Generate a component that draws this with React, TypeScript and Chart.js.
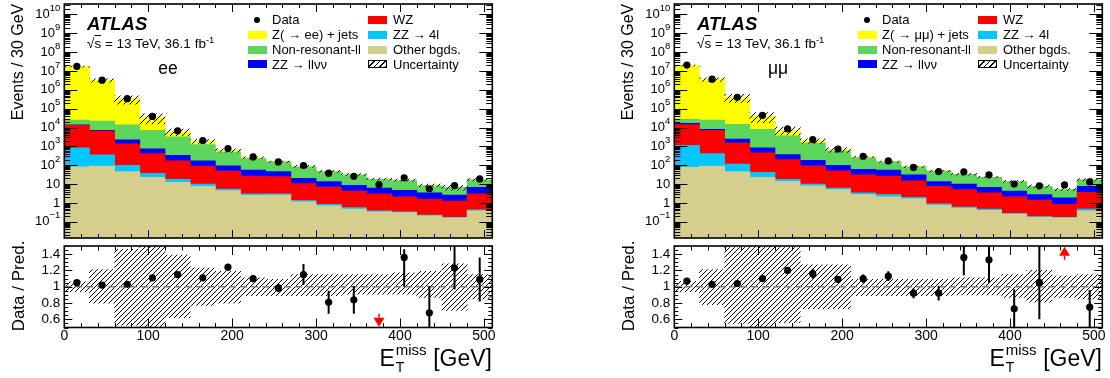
import React, { useEffect, useRef } from 'react';
import { Chart, registerables } from 'chart.js';

Chart.register(...registerables);

const FONT = '"Liberation Sans", Arial, Helvetica, sans-serif';

// ---------------- binning / axes ----------------
const binCenters = [15, 45, 75, 105, 135, 165, 195, 225, 255, 285, 315, 345, 375, 405, 435, 465, 495];
const xAxisMin = 0;
const xAxisMax = 510;
const xTickLabels = [0, 100, 200, 300, 400, 500];
const mainYMin = 0.0138;
const mainYMax = 3.6e10;
const mainDecades = [-1, 0, 1, 2, 3, 4, 5, 6, 7, 8, 9, 10];
const ratioYMin = 0.5;
const ratioYMax = 1.5;
const ratioTickLabels = [0.6, 0.8, 1, 1.2, 1.4];

// ---------------- ee channel ----------------
const eeOther = [83, 90, 46, 23, 12.6, 7.6, 4.5, 2.5, 2.6, 1.15, 0.7, 0.47, 0.34, 0.31, 0.21, 0.16, 0.38];
const eeZZ4l = [750, 270, 54, 14, 5.4, 2.4, 1.0, 0.5, 0.4, 0.2, 0.15, 0.09, 0.04, 0.03, 0.02, 0.01, 0.05];
const eeWZ = [12200, 6100, 1250, 373, 152, 80, 43.5, 24, 22, 9.15, 6.15, 3.64, 2.62, 1.76, 1.32, 1.08, 2.57];
const eeZZllvv = [1000, 700, 850, 330, 170, 80, 44, 29, 21, 9.5, 6.7, 4.3, 3.2, 2.6, 1.85, 1.35, 3.7];
const eeNonRes = [11000, 14800, 11800, 6460, 2860, 1090, 407, 168, 104, 63, 32.3, 22.5, 11.8, 10.8, 4.8, 4.1, 10.3];
const eeZjets = [1.7e7, 3.18e6, 3.16e5, 2.78e4, 2700, 600, 120, 26, 5, 2, 1, 0.5, 0.3, 0.3, 0.1, 0.1, 0.3];
const eeData = [1.75e7, 3.25e6, 3.4e5, 3.9e4, 6.7e3, 2.05e3, 770, 275, 150, 97, 38, 26, 9.3, 21.5, 5.6, 8.3, 18.8];
const eeRatio = [1.05, 1.02, 1.03, 1.11, 1.15, 1.11, 1.24, 1.1, 0.985, 1.15, 0.81, 0.84, null, 1.36, 0.68, 1.23, 1.09];
const eeRatioErrLo = [0.01, 0.01, 0.01, 0.01, 0.015, 0.025, 0.04, 0.045, 0.05, 0.13, 0.14, 0.17, 0, 0.36, 0.35, 0.26, 0.27];
const eeRatioErrHi = [0.01, 0.01, 0.01, 0.01, 0.015, 0.025, 0.04, 0.045, 0.05, 0.13, 0.14, 0.17, 0, 0.1, 0.33, 0.35, 0.27];
const eeUncHi = [1.06, 1.21, 1.46, 1.55, 1.39, 1.23, 1.19, 1.11, 1.09, 1.15, 1.15, 1.15, 1.15, 1.17, 1.19, 1.28, 1.15];
const eeUncLo = [0.94, 0.8, 0.53, 0.45, 0.62, 0.77, 0.8, 0.89, 0.89, 0.89, 0.89, 0.91, 0.91, 0.91, 0.87, 0.71, 0.85];
const eeArrowBins = [12];
const eeArrowTips = [0.51];

// ---------------- mumu channel ----------------
const mmOther = [77, 90, 46, 23, 13.8, 8.2, 5.1, 2.8, 2.1, 1.66, 0.78, 0.53, 0.41, 0.26, 0.17, 0.16, 0.38];
const mmZZ4l = [1040, 320, 69, 19, 4.2, 1.8, 1.1, 0.6, 0.7, 0.34, 0.13, 0.08, 0.06, 0.02, 0.02, 0.01, 0.09];
const mmWZ = [13100, 6790, 1385, 418, 182, 83, 44.8, 27.6, 24.2, 13, 6.7, 4.5, 2.93, 1.82, 1.22, 0.68, 3.23];
const mmZZllvv = [2400, 900, 950, 370, 165, 92, 49, 29, 29, 16, 6.1, 4.9, 3.3, 2.1, 1.39, 1.02, 3.9];
const mmNonRes = [10400, 16900, 12350, 7270, 3235, 1315, 460, 185, 94, 52, 35.3, 23, 16.3, 9.5, 4.8, 3.23, 9.4];
const mmZjets = [1.95e7, 3.58e6, 3.75e5, 3.19e4, 3600, 500, 100, 30, 3, 1, 1, 0.5, 0.3, 0.2, 0.1, 0.1, 0.3];
const mmData = [2.08e7, 3.7e6, 4.05e5, 4.4e4, 8.6e3, 2.3e3, 720, 300, 170, 77, 46, 45, 31, 10, 8.1, 9.0, 13];
const mmRatio = [1.07, 1.03, 1.04, 1.1, 1.2, 1.16, 1.09, 1.1, 1.13, 0.92, 0.92, 1.36, 1.33, 0.73, 1.05, null, 0.75];
const mmRatioErrLo = [0.01, 0.01, 0.01, 0.01, 0.03, 0.06, 0.04, 0.05, 0.06, 0.06, 0.09, 0.22, 0.28, 0.3, 0.45, 0, 0.3];
const mmRatioErrHi = [0.01, 0.01, 0.01, 0.01, 0.03, 0.06, 0.04, 0.05, 0.06, 0.06, 0.09, 0.3, 0.3, 0.24, 0.45, 0, 0.21];
const mmUncHi = [1.065, 1.21, 1.48, 1.55, 1.48, 1.27, 1.27, 1.09, 1.09, 1.09, 1.09, 1.11, 1.11, 1.15, 1.2, 1.13, 1.15];
const mmUncLo = [0.94, 0.78, 0.55, 0.45, 0.56, 0.73, 0.73, 0.89, 0.89, 0.89, 0.89, 0.9, 0.9, 0.87, 0.81, 0.87, 0.85];
const mmArrowBins = [15];
const mmArrowTips = [1.49];

// ---------------- legend text ----------------
const legendCol2 = ['WZ', 'ZZ \u2192 4l', 'Other bgds.', 'Uncertainty'];
const legendNonRes = 'Non-resonant-ll';
const legendZZllvv = 'ZZ \u2192 ll\u03bd\u03bd';

const COLORS = {
  zjets: '#ffff00',
  nonres: '#5cd65c',
  zzllvv: '#0000ff',
  wz: '#ff0000',
  zz4l: '#00c8ff',
  other: '#d5ce8c',
};

type Channel = {
  chan: string;
  zLabel: string;
  other: number[]; zz4l: number[]; wz: number[]; zzllvv: number[]; nonres: number[]; zjets: number[];
  data: number[];
  ratio: (number | null)[]; errLo: number[]; errHi: number[];
  uncLo: number[]; uncHi: number[];
  arrowBins: number[]; arrowTips: number[];
};

const EE: Channel = {
  chan: 'ee', zLabel: 'Z( \u2192 ee) + jets',
  other: eeOther, zz4l: eeZZ4l, wz: eeWZ, zzllvv: eeZZllvv, nonres: eeNonRes, zjets: eeZjets,
  data: eeData, ratio: eeRatio, errLo: eeRatioErrLo, errHi: eeRatioErrHi,
  uncLo: eeUncLo, uncHi: eeUncHi, arrowBins: eeArrowBins, arrowTips: eeArrowTips,
};
const MM: Channel = {
  chan: '\u03bc\u03bc', zLabel: 'Z( \u2192 \u03bc\u03bc) + jets',
  other: mmOther, zz4l: mmZZ4l, wz: mmWZ, zzllvv: mmZZllvv, nonres: mmNonRes, zjets: mmZjets,
  data: mmData, ratio: mmRatio, errLo: mmRatioErrLo, errHi: mmRatioErrHi,
  uncLo: mmUncLo, uncHi: mmUncHi, arrowBins: mmArrowBins, arrowTips: mmArrowTips,
};

// ---------------- helpers ----------------
function makeHatch(ctx: CanvasRenderingContext2D, s: number) {
  const c = document.createElement('canvas');
  c.width = s;
  c.height = s;
  const g = c.getContext('2d')!;
  g.strokeStyle = '#000';
  g.lineWidth = 1;
  g.beginPath();
  for (const o of [-s, 0, s]) {
    g.moveTo(o, s);
    g.lineTo(o + s, 0);
  }
  g.stroke();
  return ctx.createPattern(c, 'repeat')!;
}

function drawXTicks(chart: any, major: number, minor: number) {
  const { ctx, chartArea: a } = chart;
  const xs = chart.scales.x;
  ctx.beginPath();
  for (let v = xAxisMin; v <= xAxisMax; v += 20) {
    const px = Math.round(xs.getPixelForValue(v)) + 0.5;
    const len = v % 100 === 0 ? major : minor;
    ctx.moveTo(px, a.bottom);
    ctx.lineTo(px, a.bottom - len);
    ctx.moveTo(px, a.top);
    ctx.lineTo(px, a.top + len);
  }
  ctx.stroke();
}

const mainAxesPlugin = {
  id: 'mainAxes',
  afterDatasetsDraw(chart: any) {
    const { ctx, chartArea: a } = chart;
    const ys = chart.scales.y;
    ctx.save();
    ctx.strokeStyle = '#000';
    ctx.lineWidth = 1;
    drawXTicks(chart, 8, 4);
    ctx.beginPath();
    for (let k = -2; k <= 10; k++) {
      for (let m = 1; m <= 9; m++) {
        const v = m * Math.pow(10, k);
        if (v < mainYMin || v > mainYMax) continue;
        const py = Math.round(ys.getPixelForValue(v)) + 0.5;
        const len = m === 1 ? 13 : 6;
        ctx.moveTo(a.left, py);
        ctx.lineTo(a.left + len, py);
        ctx.moveTo(a.right, py);
        ctx.lineTo(a.right - len, py);
      }
    }
    ctx.stroke();
    ctx.lineWidth = 1.6;
    ctx.strokeRect(a.left, a.top, a.right - a.left, a.bottom - a.top);
    // y labels 10^k
    ctx.fillStyle = '#000';
    ctx.textBaseline = 'middle';
    ctx.textAlign = 'right';
    const xr = a.left - 4;
    for (const k of mainDecades) {
      const py = ys.getPixelForValue(Math.pow(10, k));
      if (k === 0 || k === 1) {
        ctx.font = `13px ${FONT}`;
        ctx.fillText(k === 0 ? '1' : '10', xr, py);
      } else {
        const sup = k === -1 ? '\u22121' : String(k);
        ctx.font = `9.5px ${FONT}`;
        const w = ctx.measureText(sup).width;
        ctx.fillText(sup, xr, py - 6);
        ctx.font = `13px ${FONT}`;
        ctx.fillText('10', xr - w, py);
      }
    }
    ctx.restore();
  },
};

function makeRatioPlugin(ch: Channel) {
  return {
    id: 'ratioAxes',
    beforeDatasetDraw(chart: any, args: any) {
      if (args.index !== 0) return;
      const { ctx, chartArea: a } = chart;
      const xs = chart.scales.x;
      const ys = chart.scales.y;
      ctx.save();
      ctx.beginPath();
      ctx.rect(a.left, a.top, a.right - a.left, a.bottom - a.top);
      ctx.clip();
      ctx.strokeStyle = '#000';
      ctx.lineWidth = 2;
      ctx.beginPath();
      binCenters.forEach((x, i) => {
        const r = ch.ratio[i];
        if (r === null) return;
        const px = xs.getPixelForValue(x);
        ctx.moveTo(px, ys.getPixelForValue(r - ch.errLo[i]));
        ctx.lineTo(px, ys.getPixelForValue(r + ch.errHi[i]));
      });
      ctx.stroke();
      ctx.restore();
    },
    afterDatasetsDraw(chart: any) {
      const { ctx, chartArea: a } = chart;
      const xs = chart.scales.x;
      const ys = chart.scales.y;
      ctx.save();
      ctx.strokeStyle = '#000';
      ctx.lineWidth = 1;
      drawXTicks(chart, 9, 4.5);
      ctx.beginPath();
      for (let i = 0; i <= 20; i++) {
        const v = ratioYMin + i * 0.05;
        const py = Math.round(ys.getPixelForValue(v)) + 0.5;
        const len = i % 4 === 2 ? 8 : 4;
        ctx.moveTo(a.left, py);
        ctx.lineTo(a.left + len, py);
        ctx.moveTo(a.right, py);
        ctx.lineTo(a.right - len, py);
      }
      ctx.stroke();
      ctx.lineWidth = 1.6;
      ctx.strokeRect(a.left, a.top, a.right - a.left, a.bottom - a.top);
      ctx.fillStyle = '#000';
      ctx.font = `14px ${FONT}`;
      ctx.textAlign = 'center';
      ctx.textBaseline = 'top';
      for (const v of xTickLabels) ctx.fillText(String(v), xs.getPixelForValue(v), a.bottom + 1.5);
      ctx.font = `13.5px ${FONT}`;
      ctx.textAlign = 'right';
      ctx.textBaseline = 'middle';
      for (const v of ratioTickLabels) ctx.fillText(String(v), a.left - 4, ys.getPixelForValue(v));
      // out-of-range arrows
      ctx.fillStyle = '#ff0000';
      ctx.strokeStyle = '#ff0000';
      ctx.lineWidth = 1.5;
      ch.arrowBins.forEach((b, i) => {
        const px = xs.getPixelForValue(binCenters[b]);
        const tip = ys.getPixelForValue(ch.arrowTips[i]);
        const dir = ch.arrowTips[i] < 1 ? -1 : 1; // -1 = pointing down
        const base = tip + dir * 9;
        ctx.beginPath();
        ctx.moveTo(px, tip);
        ctx.lineTo(px - 5.5, base);
        ctx.lineTo(px + 5.5, base);
        ctx.closePath();
        ctx.fill();
        ctx.beginPath();
        ctx.moveTo(px, base);
        ctx.lineTo(px, base + dir * 4);
        ctx.stroke();
      });
      ctx.restore();
    },
  };
}

const baseOptions = {
  responsive: false,
  animation: false as const,
  devicePixelRatio: 1,
  events: [] as any[],
  plugins: { legend: { display: false }, tooltip: { enabled: false } },
};

const xScale = {
  type: 'linear' as const,
  min: xAxisMin,
  max: xAxisMax,
  offset: false,
  display: false,
  afterBuildTicks: (s: any) => {
    s.ticks = xTickLabels.map((v) => ({ value: v }));
  },
};

function buildMain(canvas: HTMLCanvasElement, ch: Channel) {
  const ctx = canvas.getContext('2d')!;
  const hatch = makeHatch(ctx, 6);
  const comps: [number[], string][] = [
    [ch.other, COLORS.other],
    [ch.zz4l, COLORS.zz4l],
    [ch.wz, COLORS.wz],
    [ch.zzllvv, COLORS.zzllvv],
    [ch.nonres, COLORS.nonres],
    [ch.zjets, COLORS.zjets],
  ];
  const totals = binCenters.map((_, i) => comps.reduce((s, c) => s + c[0][i], 0));
  const barCommon = { barPercentage: 1, categoryPercentage: 1, borderWidth: 0, stack: 'h' };
  const datasets: any[] = [
    {
      type: 'scatter', yAxisID: 'y2', order: 0,
      data: binCenters.map((x, i) => ({ x, y: ch.data[i] })),
      pointRadius: 3.6, pointBackgroundColor: '#000', pointBorderColor: '#000', pointBorderWidth: 0,
    },
    {
      type: 'bar', ...barCommon, yAxisID: 'y2', order: 1, backgroundColor: hatch,
      data: binCenters.map((x, i) => ({ x, y: [totals[i] * ch.uncLo[i], totals[i] * ch.uncHi[i]] })),
    },
    ...comps.map(([vals, color], k) => ({
      type: 'bar', ...barCommon, yAxisID: 'y', order: 2 + k, backgroundColor: color,
      data: binCenters.map((x, i) => ({ x, y: vals[i] })),
    })),
  ];
  return new Chart(canvas, {
    type: 'bar',
    data: { datasets },
    options: {
      ...baseOptions,
      layout: { padding: { left: 64.3, right: 62.7, top: 2, bottom: 2.7 } },
      scales: {
        x: xScale,
        y: { type: 'logarithmic', min: mainYMin, max: mainYMax, stacked: true, display: false },
        y2: { type: 'logarithmic', min: mainYMin, max: mainYMax, display: false },
      },
    } as any,
    plugins: [mainAxesPlugin],
  });
}

function buildRatio(canvas: HTMLCanvasElement, ch: Channel) {
  const ctx = canvas.getContext('2d')!;
  const hatch = makeHatch(ctx, 5);
  const pts = binCenters
    .map((x, i) => ({ x, y: ch.ratio[i] }))
    .filter((p) => p.y !== null);
  const datasets: any[] = [
    {
      type: 'scatter', order: 0, data: pts,
      pointRadius: 3.6, pointBackgroundColor: '#000', pointBorderColor: '#000', pointBorderWidth: 0,
    },
    {
      type: 'line', order: 1,
      data: [{ x: xAxisMin, y: 1 }, { x: xAxisMax, y: 1 }],
      borderColor: '#808080', borderWidth: 1.5, borderDash: [7, 4], pointRadius: 0,
    },
    {
      type: 'bar', order: 2, barPercentage: 1, categoryPercentage: 1, borderWidth: 0, stack: 'h',
      backgroundColor: hatch,
      data: binCenters.map((x, i) => ({ x, y: [ch.uncLo[i], ch.uncHi[i]] })),
    },
  ];
  return new Chart(canvas, {
    type: 'bar',
    data: { datasets },
    options: {
      ...baseOptions,
      layout: { padding: { left: 64.3, right: 62.7, top: 2.5, bottom: 50.5 } },
      scales: {
        x: xScale,
        y: { type: 'linear', min: ratioYMin, max: ratioYMax, display: false },
      },
    } as any,
    plugins: [makeRatioPlugin(ch)],
  });
}

// ---------------- overlay text ----------------
function Txt({ x, y, size, children, style }: { x: number; y: number; size: number; children: any; style?: any }) {
  return (
    <div
      style={{
        position: 'absolute', left: x, top: y - size * 0.52, fontSize: size,
        lineHeight: `${size}px`, whiteSpace: 'nowrap', ...(style || {}),
      }}
    >
      {children}
    </div>
  );
}

function Swatch({ x, y, bg, border }: { x: number; y: number; bg: string; border?: boolean }) {
  return (
    <div
      style={{
        position: 'absolute', left: x, top: y - 4, width: 19, height: 8, background: bg,
        boxSizing: 'border-box', border: border ? '1px solid #000' : 'none',
      }}
    />
  );
}

function Panel({ ch, left }: { ch: Channel; left: number }) {
  const mainRef = useRef<HTMLCanvasElement>(null);
  const ratioRef = useRef<HTMLCanvasElement>(null);
  useEffect(() => {
    const m = buildMain(mainRef.current!, ch);
    const r = buildRatio(ratioRef.current!, ch);
    return () => {
      m.destroy();
      r.destroy();
    };
  }, [ch]);
  const rows = [20, 34.8, 49.6, 64.4];
  const hatchCss = 'repeating-linear-gradient(-45deg, #000 0px, #000 1px, #fff 1px, #fff 4px)';
  return (
    <div style={{ position: 'absolute', left, top: 0, width: 555, height: 378 }}>
      <canvas ref={mainRef} width={555} height={242} style={{ position: 'absolute', left: 0, top: 0, width: 555, height: 242 }} />
      <canvas ref={ratioRef} width={555} height={136} style={{ position: 'absolute', left: 0, top: 242, width: 555, height: 136 }} />

      {/* axis titles */}
      <div style={{ position: 'absolute', left: 18, top: 62, fontSize: 16, lineHeight: '16px', whiteSpace: 'nowrap', transform: 'translate(-50%,-50%) rotate(-90deg)' }}>
        Events / 30 GeV
      </div>
      <div style={{ position: 'absolute', left: 18, top: 286, fontSize: 17, lineHeight: '17px', whiteSpace: 'nowrap', transform: 'translate(-50%,-50%) rotate(-90deg)' }}>
        Data / Pred.
      </div>
      <div style={{ position: 'absolute', right: 555 - 492, top: 347, fontSize: 23, lineHeight: '23px', whiteSpace: 'nowrap' }}>
        E
        <span style={{ display: 'inline-block', position: 'relative', width: 32, height: 23, verticalAlign: 'top' }}>
          <span style={{ position: 'absolute', left: 1, top: -5, fontSize: 15, lineHeight: '15px' }}>miss</span>
          <span style={{ position: 'absolute', left: 1, top: 12.5, fontSize: 14, lineHeight: '14px' }}>T</span>
        </span>
        {' [GeV]'}
      </div>

      {/* ATLAS label */}
      <Txt x={87} y={25} size={18.5} style={{ fontWeight: 'bold', fontStyle: 'italic' }}>ATLAS</Txt>
      <Txt x={87} y={44} size={13.5}>
        {'\u221a'}<span style={{ textDecoration: 'overline' }}>s</span>{' = 13 TeV,  36.1 fb'}
        <sup style={{ fontSize: 9.5, verticalAlign: 0, position: 'relative', top: -5 }}>-1</sup>
      </Txt>
      <Txt x={168} y={69} size={17.5} style={{ transform: 'translateX(-50%)' }}>{ch.chan}</Txt>

      {/* legend */}
      <div style={{ position: 'absolute', left: 257 - 3.2, top: rows[0] - 3.2, width: 6.4, height: 6.4, borderRadius: '50%', background: '#000' }} />
      <Swatch x={248} y={rows[1]} bg={COLORS.zjets} />
      <Swatch x={248} y={rows[2]} bg={COLORS.nonres} />
      <Swatch x={248} y={rows[3]} bg={COLORS.zzllvv} />
      <Txt x={272} y={rows[0]} size={13}>Data</Txt>
      <Txt x={272} y={rows[1]} size={13}>{ch.zLabel}</Txt>
      <Txt x={272} y={rows[2]} size={13}>{legendNonRes}</Txt>
      <Txt x={272} y={rows[3]} size={13}>{legendZZllvv}</Txt>
      <Swatch x={368} y={rows[0]} bg={COLORS.wz} />
      <Swatch x={368} y={rows[1]} bg={COLORS.zz4l} />
      <Swatch x={368} y={rows[2]} bg={COLORS.other} />
      <Swatch x={368} y={rows[3]} bg={hatchCss} border />
      {legendCol2.map((t, i) => (
        <Txt key={t} x={393} y={rows[i]} size={13}>{t}</Txt>
      ))}
    </div>
  );
}

export default function App() {
  return (
    <div
      style={{
        position: 'absolute', left: 0, top: 0, width: 1110, height: 378, background: '#fff',
        fontFamily: FONT, color: '#000', overflow: 'hidden',
      }}
    >
      <Panel ch={EE} left={0} />
      <Panel ch={MM} left={610} />
    </div>
  );
}
